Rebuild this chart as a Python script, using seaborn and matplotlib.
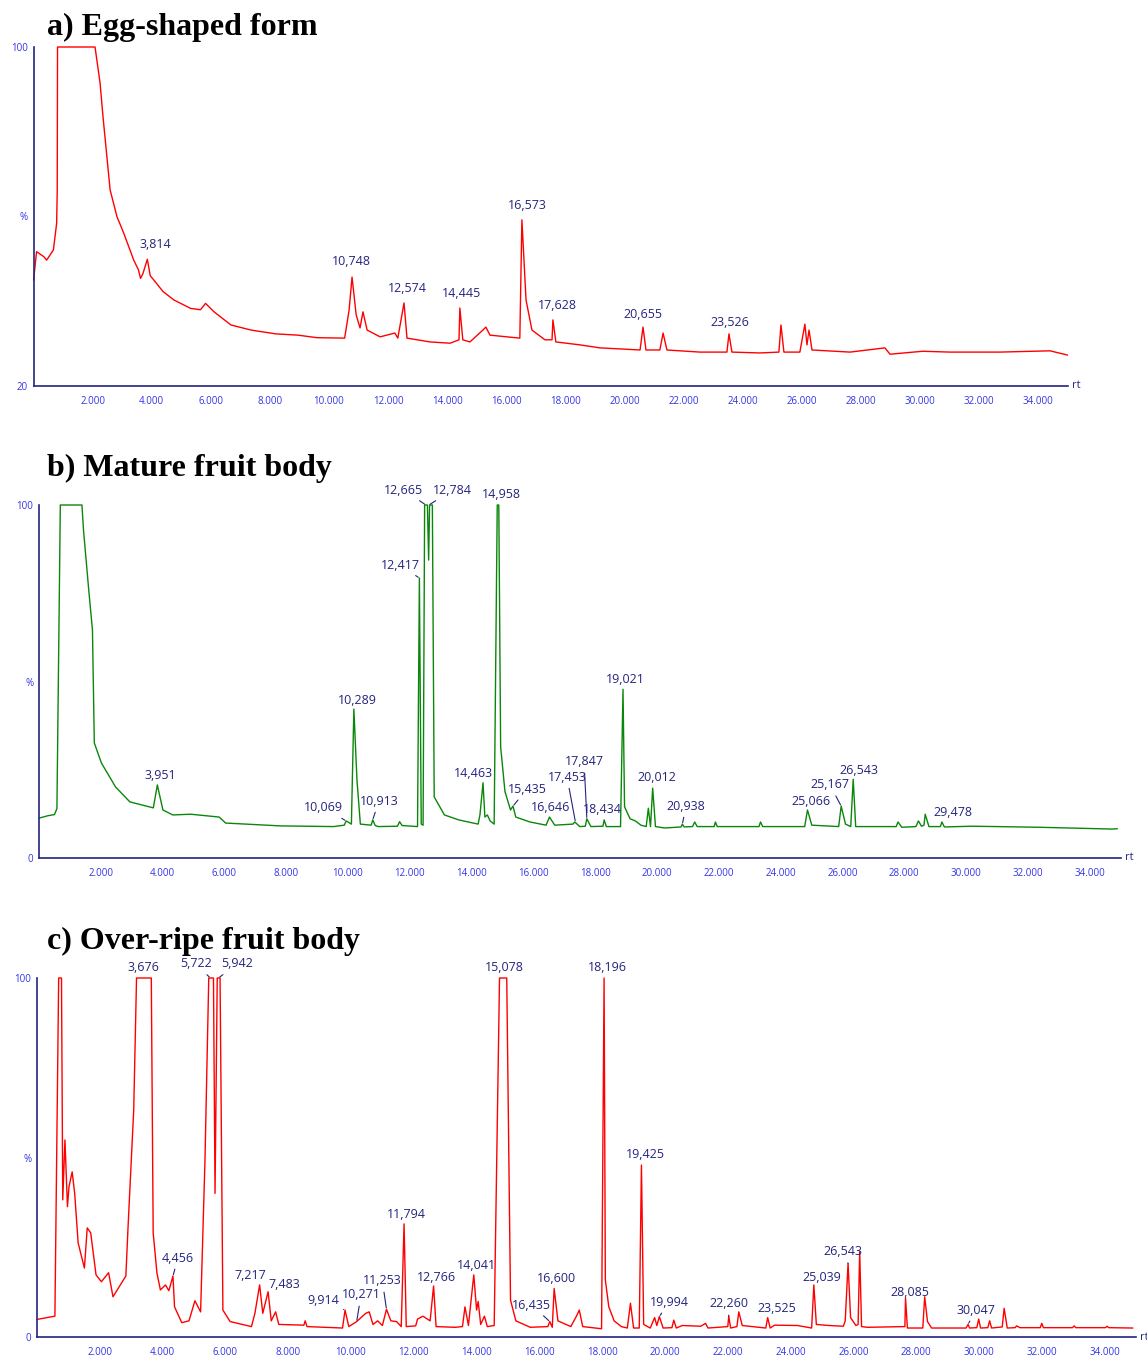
import pandas as pd
import matplotlib
matplotlib.use('Agg')
import matplotlib.pyplot as plt
from matplotlib.ticker import MultipleLocator, FuncFormatter
import seaborn as sns

# ---- a) egg-shaped form (TIC, % of max, y axis 20-100) ----
a_rt = [0.0, 0.1, 0.35, 0.44, 0.67, 0.78, 0.80, 0.81, 2.08, 2.25, 2.35, 2.59, 2.82, 3.05,
        3.39, 3.55, 3.62, 3.70, 3.85, 3.95, 4.07, 4.38, 4.75, 5.32, 5.65, 5.82, 6.11, 6.68,
        7.36, 8.2, 8.95, 9.6, 10.53, 10.68, 10.78, 10.92, 11.05,
        11.15, 11.29, 11.73, 12.23, 12.33, 12.54, 12.64, 13.42, 14.10, 14.40, 14.43, 14.53,
        14.77, 15.21, 15.31, 15.45, 16.46, 16.53, 16.67, 16.87, 17.31, 17.55, 17.58, 17.68,
        18.50, 19.17, 20.53, 20.63, 20.73, 21.20, 21.31, 21.44, 22.56, 23.47, 23.54, 23.64,
        24.59, 25.23, 25.30, 25.40, 25.94, 26.11, 26.18, 26.25, 26.35, 27.64, 28.82, 28.99,
        30.1, 31.02, 32.71, 34.41, 35.0]
a_int = [45.0, 51.7, 50.5, 49.7, 52.1, 58.4, 66.0, 100, 100, 91.5, 83.5, 66.3, 60.0, 56.1,
         49.7, 47.4, 45.4, 46.5, 49.9, 46.0, 45.0, 42.3, 40.3, 38.3, 38.0, 39.5, 37.5, 34.4,
         33.2, 32.3, 32.0, 31.4, 31.3, 37.9, 45.7, 36.8, 33.7,
         37.5, 33.2, 31.6, 32.5, 31.3, 39.6, 31.3, 30.4, 30.1, 30.9, 38.4, 30.9,
         30.4, 33.2, 33.9, 32.0, 31.3, 59.2, 40.3, 33.2, 30.9, 30.9, 35.6, 30.4,
         29.7, 29.0, 28.5, 33.9, 28.5, 28.5, 32.5, 28.5, 28.0, 28.0, 32.3, 28.0,
         27.8, 28.0, 34.4, 28.0, 28.0, 34.6, 29.7, 33.2, 28.5, 28.0, 29.0, 27.5,
         28.2, 28.0, 28.0, 28.3, 27.3]
a_labels = ['3,814', '10,748', '12,574', '14,445', '16,573', '17,628', '20,655', '23,526']

# ---- b) mature fruit body ----
b_rt = [0.0, 0.3, 0.5, 0.58, 0.69, 1.39, 1.44, 1.61, 1.73, 1.79, 2.02, 2.48, 2.94, 3.70, 3.83,
        4.01, 4.33, 4.91, 5.83, 6.04, 7.8, 9.53, 9.88, 9.94, 10.11, 10.19, 10.29, 10.4,
        10.75, 10.8, 10.88, 10.98, 11.6, 11.67, 11.75, 12.25, 12.31, 12.37, 12.43, 12.48,
        12.57, 12.61, 12.64, 12.73, 12.79, 13.12, 13.58, 14.21, 14.27, 14.37, 14.43, 14.51,
        14.6, 14.73, 14.83, 14.88, 14.94, 15.08, 15.26, 15.34, 15.43, 15.89, 16.41, 16.52,
        16.69, 17.28, 17.34, 17.5, 17.68, 17.73, 17.86, 18.25, 18.29, 18.36, 18.82, 18.90, 18.95,
        19.13, 19.3, 19.48, 19.65, 19.72, 19.79, 19.86, 19.95, 20.25, 20.78, 20.82, 20.88,
        21.15, 21.22, 21.3, 21.85, 21.89, 21.95, 23.3, 23.35, 23.42, 24.78, 24.87, 25.01,
        25.88, 25.96, 26.1, 26.27, 26.35, 26.43, 27.74, 27.8, 27.92, 28.38, 28.46, 28.56,
        28.64, 28.68, 28.8, 29.17, 29.22, 29.3, 30.19, 31.0, 32.4, 34.73, 34.9]
b_int = [11.3, 12.0, 12.3, 14.0, 100, 100, 92.9, 75.9, 64.6, 32.6, 26.9, 20.1, 15.9, 14.2, 20.7,
         13.6, 12.2, 12.4, 11.6, 9.9, 9.1, 8.9, 9.3, 10.5, 9.6, 42.2, 22.1, 9.6,
         9.3, 10.8, 9.2, 8.9, 9.0, 10.3, 9.2, 8.9, 79.3, 9.6, 9.3, 100,
         100, 84.4, 100, 100, 17.3, 12.2, 10.8, 9.6, 12.2, 21.3, 11.6, 12.2,
         10.5, 9.6, 100, 100, 31.5, 18.8, 13.6, 14.7, 11.6, 10.2, 9.3, 11.6,
         9.3, 9.6, 10.2, 8.9, 9.0, 11.1, 8.9, 9.0, 10.8, 8.9, 8.9, 47.8, 14.5,
         11.1, 10.5, 9.3, 8.9, 14.1, 8.9, 19.8, 8.9, 8.5, 8.8, 9.6, 8.8,
         8.9, 10.2, 8.9, 8.9, 10.2, 8.9, 8.9, 10.2, 8.9, 8.9, 13.6, 9.3,
         8.9, 14.7, 9.6, 8.9, 22.3, 8.9, 8.9, 10.2, 8.7, 8.9, 10.5, 9.0,
         9.3, 12.4, 8.9, 8.9, 10.2, 8.8, 9.0, 8.9, 8.7, 8.2, 8.3]
b_labels = ['3,951', '10,069', '10,289', '10,913', '12,417', '12,665', '12,784', '14,958',
            '14,463', '15,435', '16,646', '17,453', '17,847', '18,434', '19,021', '20,012',
            '20,938', '25,066', '25,167', '26,543', '29,478']

# ---- c) over-ripe fruit body ----
c_rt = [0.0, 0.57, 0.69, 0.78, 0.82, 0.89, 0.97, 1.02, 1.12, 1.20, 1.31, 1.51, 1.60, 1.71,
        1.88, 2.05, 2.28, 2.42, 2.83, 2.90, 3.08, 3.17, 3.64, 3.70, 3.82, 3.93, 4.09, 4.20,
        4.33, 4.38, 4.61, 4.84, 5.03, 5.21, 5.35, 5.47, 5.62, 5.67, 5.74, 5.83, 5.92, 6.15,
        6.83, 6.94, 7.09, 7.19, 7.36, 7.46, 7.6, 7.7, 8.5, 8.54, 8.6, 9.73, 9.81, 9.93,
        10.18, 10.47, 10.58, 10.7, 10.85, 11.0, 11.13, 11.27, 11.45, 11.6, 11.69, 11.76,
        12.06, 12.12, 12.29, 12.52, 12.63, 12.71, 13.31, 13.55, 13.63, 13.74, 13.91, 14.0, 14.05,
        14.13, 14.25, 14.34, 14.56, 14.73, 14.96, 15.08, 15.25, 15.71, 16.27, 16.33, 16.41,
        16.47, 16.59, 17.0, 17.18, 17.27, 17.38, 17.98, 18.06, 18.1, 18.21, 18.38, 18.61,
        18.8, 18.9, 19.0, 19.18, 19.25, 19.32, 19.53, 19.67, 19.74, 19.82, 19.94, 20.22, 20.28,
        20.36, 20.55, 21.14, 21.29, 21.37, 22.0, 22.03, 22.09, 22.29, 22.35, 22.46, 23.21,
        23.27, 23.35, 23.49, 24.22, 24.67, 24.74, 24.82, 25.22, 25.68, 25.74, 25.83, 25.91, 26.08,
        26.15, 26.2, 26.26, 26.45, 27.64, 27.66, 27.72, 28.21, 28.27, 28.36, 28.49, 29.59, 29.65,
        29.7, 29.93, 29.99, 30.05, 30.28, 30.34, 30.4, 30.74, 30.8, 30.9, 31.15, 31.2, 31.3,
        31.95, 32.0, 32.05, 32.98, 33.03, 33.08, 34.03, 34.08, 34.13, 34.9]
c_int = [4.9, 5.8, 100, 100, 38.2, 54.9, 36.3, 41.9, 46.0, 40.0, 26.2, 19.2, 30.4, 29.0,
         17.3, 15.4, 17.9, 11.2, 17.0, 30.7, 63.2, 100, 100, 29.0, 17.8, 13.1, 14.5, 12.9,
         17.0, 8.4, 4.0, 4.5, 10.1, 7.0, 49.3, 100, 100, 40.0, 100, 100, 7.5, 4.3,
         2.9, 6.6, 14.5, 6.6, 12.6, 4.5, 7.0, 3.5, 3.3, 4.5, 2.9, 2.5, 7.5, 2.9,
         4.3, 6.6, 7.0, 3.5, 4.5, 3.2, 7.7, 4.5, 4.3, 2.9, 31.5, 2.9,
         3.1, 5.0, 5.8, 4.5, 14.2, 2.9, 2.7, 2.9, 8.4, 3.2, 17.3, 7.5, 9.9,
         3.5, 5.8, 2.9, 3.2, 100, 100, 10.3, 4.5, 2.7, 2.9, 4.3, 2.7,
         13.5, 4.5, 2.9, 5.8, 7.5, 2.9, 2.3, 100, 15.9, 8.4, 4.5, 2.9,
         2.5, 9.4, 2.5, 2.5, 47.9, 3.5, 2.5, 5.4, 3.2, 5.7, 2.5, 2.6, 4.7,
         2.5, 3.2, 3.0, 3.8, 2.5, 2.9, 5.8, 2.5, 2.9, 7.0, 3.2, 2.5,
         5.4, 2.5, 3.3, 3.2, 2.5, 14.5, 3.5, 3.2, 3.0, 4.5, 20.5, 5.4, 3.2,
         3.5, 23.8, 2.9, 2.7, 2.9, 10.8, 2.5, 2.5, 11.2, 4.3, 2.5, 2.5, 3.5,
         2.5, 2.6, 5.0, 2.5, 2.6, 4.5, 2.5, 2.8, 8.0, 2.5, 2.6, 3.1, 2.6,
         2.6, 3.8, 2.6, 2.6, 3.1, 2.6, 2.6, 3.0, 2.6, 2.5]
c_labels = ['3,676', '5,722', '5,942', '15,078', '18,196', '19,425', '4,456', '7,217',
            '7,483', '9,914', '10,271', '11,253', '11,794', '12,766', '14,041', '16,435',
            '16,600', '19,994', '22,260', '23,525', '25,039', '26,543', '28,085', '30,047']

# ---- layout of the peak labels: text centre, and leader tip (None = no leader) ----
a_text_xy = [(4.11, 53.3), (10.75, 49.3), (12.64, 42.9), (14.47, 41.9), (16.7, 62.7),
             (17.72, 38.9), (20.63, 36.8), (23.57, 35.1)]
a_tips = [None] * 8

b_text_xy = [(3.92, 23.5), (9.22, 14.2), (10.29, 44.5), (11.0, 16.1), (11.68, 83.0),
             (11.81, 104.2), (13.37, 104.2), (14.98, 103.1), (14.05, 23.8), (15.79, 19.5),
             (16.57, 14.2), (17.09, 22.9), (17.64, 27.2), (18.22, 13.6), (18.96, 50.7),
             (20.0, 22.9), (20.94, 14.7), (24.98, 15.9), (25.6, 20.7), (26.54, 24.9),
             (29.58, 13.0)]
b_tips = [None, (9.94, 10.5), None, (10.8, 10.8), (12.31, 79.3), (12.52, 100), (12.62, 100),
          None, None, (15.34, 14.7), None, (17.36, 10.2), (17.73, 11.1), None, None, None,
          (20.82, 9.6), None, (25.96, 14.7), None, None]

c_text_xy = [(3.38, 102.8), (5.06, 103.9), (6.37, 103.9), (14.87, 103.0), (18.15, 102.8),
             (19.39, 50.7), (4.49, 22.0), (6.78, 17.0), (7.87, 14.5), (9.11, 10.3),
             (10.32, 11.7), (11.0, 15.6), (11.78, 34.0), (12.71, 16.7), (14.01, 19.8),
             (15.76, 8.9), (16.53, 16.4), (20.13, 9.7), (22.04, 9.2), (23.57, 7.8),
             (25.0, 16.7), (25.67, 23.7), (27.8, 12.5), (29.9, 7.5)]
c_tips = [None, (5.52, 100), (5.78, 100), None, None, None, (4.33, 17.0), None, None,
          (9.81, 7.5), (10.18, 4.3), (11.13, 7.7), None, None, None, (16.33, 4.3), None,
          (19.82, 5.7), (22.03, 5.8), None, None, (25.83, 20.5), None, (29.65, 3.5)]

sns.set_style('white')
plt.rcParams['font.family'] = ['Open Sans', 'DejaVu Sans']

NAVY = '#24247f'
BLUE = '#3333e6'
W, H = 1147, 1356

fig = plt.figure(figsize=(W / 100, H / 100), dpi=100)


def add_axes(left, top, right, bottom):
    return fig.add_axes([left / W, 1 - bottom / H, (right - left) / W, (bottom - top) / H])


def x_fmt(v, pos):
    r = int(round(v))
    if r > 0 and r % 2 == 0:
        return f'{r}.000'
    return ''


def draw_panel(ax, rt, inten, color, ymin, labels, text_xy, tips):
    df = pd.DataFrame({'rt': rt, 'intensity': inten})
    sns.lineplot(data=df, x='rt', y='intensity', ax=ax, color=color, lw=1.0,
                 estimator=None, sort=False, legend=False)
    for ln in ax.lines:
        ln.set_clip_on(False)
    ax.set_xlim(0, 35)
    ax.set_ylim(ymin, 100)
    sns.despine(ax=ax)
    for s in ['left', 'bottom']:
        ax.spines[s].set_color(NAVY)
        ax.spines[s].set_linewidth(1.2)
    ax.xaxis.set_major_locator(MultipleLocator(1))
    ax.xaxis.set_minor_locator(MultipleLocator(0.2))
    ax.xaxis.set_major_formatter(FuncFormatter(x_fmt))
    yt = list(range(ymin, 101, 10))
    ylab = [''] * len(yt)
    ylab[0] = str(ymin)
    ylab[-1] = '100'
    ylab[len(yt) // 2] = '%'
    ax.set_yticks(yt)
    ax.set_yticklabels(ylab)
    ax.tick_params(axis='x', which='major', length=5, width=1, color=NAVY,
                   labelcolor=BLUE, labelsize=7, pad=2)
    ax.tick_params(axis='x', which='minor', length=2.5, width=0.8, color=NAVY)
    ax.tick_params(axis='y', length=3, width=1, color=NAVY, labelcolor=BLUE,
                   labelsize=7, pad=1)
    ax.set_xlabel('')
    ax.set_ylabel('')
    ax.text(1.004, 0, 'rt', transform=ax.transAxes, ha='left', va='center',
            color=NAVY, fontsize=8)
    for lab, (tx, ty), tip in zip(labels, text_xy, tips):
        if tip is None:
            ax.text(tx, ty, lab, ha='center', va='center', color=NAVY, fontsize=9,
                    clip_on=False)
        else:
            ax.annotate(lab, xy=tip, xytext=(tx, ty), ha='center', va='center',
                        color=NAVY, fontsize=9, annotation_clip=False,
                        arrowprops=dict(arrowstyle='-', color=NAVY, lw=0.8,
                                        shrinkA=1, shrinkB=1))


ax_a = add_axes(33.6, 47, 33.6 + 35 * 29.54, 386)
draw_panel(ax_a, a_rt, a_int, '#ff0000', 20, a_labels, a_text_xy, a_tips)

ax_b = add_axes(39, 505, 39 + 35 * 30.9, 858)
draw_panel(ax_b, b_rt, b_int, '#0a870a', 0, b_labels, b_text_xy, b_tips)

ax_c = add_axes(37, 978, 37 + 35 * 31.4, 1337)
draw_panel(ax_c, c_rt, c_int, '#ff0000', 0, c_labels, c_text_xy, c_tips)

title_font = dict(family='Liberation Serif', fontweight='bold', fontsize=23,
                  ha='left', va='baseline', color='black')
fig.text(47 / W, 1 - 35 / H, 'a) Egg-shaped form', **title_font)
fig.text(47 / W, 1 - 476 / H, 'b) Mature fruit body', **title_font)
fig.text(47 / W, 1 - 949 / H, 'c) Over-ripe fruit body', **title_font)

fig.savefig('out.png', dpi=100)
